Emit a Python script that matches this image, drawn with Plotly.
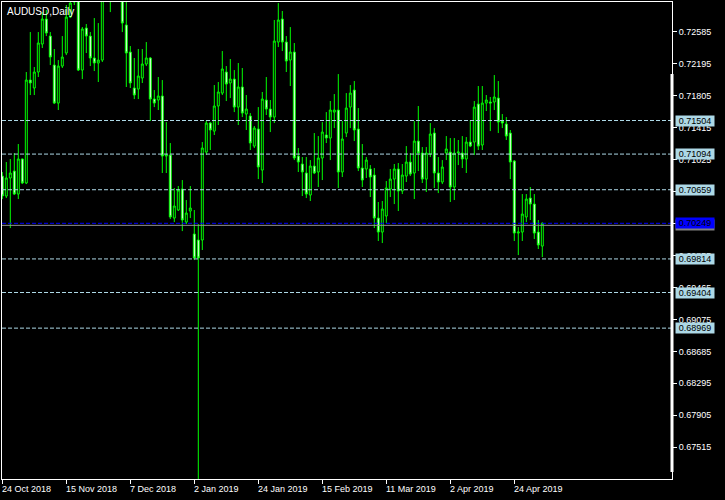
import pandas as pd
import plotly.graph_objects as go

# ---- data -------------------------------------------------------------
holidays = ["2018-12-25", "2019-01-01"]
dates = [d.strftime("%Y-%m-%d") for d in pd.bdate_range("2018-10-24", "2019-05-03")
         if d.strftime("%Y-%m-%d") not in holidays]

open_ = [0.70826,0.70582,0.70802,0.70887,0.70606,0.71034,0.70741,0.71998,0.71901,0.72096,
         0.72438,0.72743,0.72535,0.72181,0.71717,0.72169,0.72328,0.72767,0.72950,0.73030,
         0.72120,0.72633,0.72535,0.72267,0.72206,0.72242,0.73050,0.73180,0.73100,0.73600,
         0.73200,0.72670,0.72340,0.71901,0.71888,0.72023,0.72194,0.72267,0.71766,0.71754,
         0.71803,0.71070,0.71083,0.70313,0.70411,0.70667,0.70264,0.70399,0.70118,0.70045,
         0.70045,0.71119,0.71473,0.71375,0.71681,0.71839,0.72096,0.71962,0.72010,0.71668,
         0.71913,0.71583,0.71559,0.71192,0.71400,0.70899,0.71754,0.71644,0.71546,0.72462,
         0.72743,0.72462,0.72242,0.72340,0.71070,0.70973,0.70863,0.70594,0.70948,0.70875,
         0.71046,0.71327,0.71290,0.71607,0.71632,0.70875,0.71351,0.71668,0.71876,0.71400,
         0.70924,0.70912,0.70912,0.70838,0.70313,0.70142,0.70338,0.70667,0.70789,0.70912,
         0.70643,0.70826,0.70997,0.70863,0.71253,0.71107,0.70789,0.71095,0.71351,0.70863,
         0.70753,0.71107,0.71119,0.70692,0.71107,0.71107,0.71034,0.71241,0.71241,0.71705,
         0.71205,0.71717,0.71730,0.71730,0.71778,0.71498,0.71461,0.71351,0.71009,0.70130,
         0.70142,0.70326,0.70557,0.70484,0.70142,0.69971]
high = [0.70875,0.70997,0.71034,0.71107,0.71217,0.71040,0.72096,0.72584,0.72157,0.72584,
        0.72828,0.72853,0.72584,0.72377,0.72242,0.72535,0.72914,0.73100,0.73150,0.73100,
        0.72645,0.72682,0.72584,0.72755,0.72694,0.73150,0.73300,0.73300,0.73930,0.73700,
        0.73250,0.72975,0.72413,0.72267,0.72377,0.72377,0.72462,0.72279,0.71876,0.72035,
        0.71998,0.71485,0.71229,0.70680,0.70704,0.70777,0.70533,0.70704,0.70411,0.70240,
        0.71241,0.71498,0.71485,0.71937,0.71974,0.72352,0.72169,0.72255,0.72120,0.72206,
        0.72145,0.71815,0.71595,0.71437,0.71668,0.71852,0.72035,0.71754,0.72731,0.72938,
        0.72841,0.72535,0.72645,0.72450,0.71168,0.71058,0.71058,0.71021,0.71351,0.71314,
        0.71485,0.71607,0.71742,0.71827,0.72071,0.71498,0.71839,0.71937,0.71986,0.71656,
        0.71217,0.71058,0.70960,0.70924,0.70509,0.70521,0.70765,0.70912,0.70973,0.70985,
        0.70973,0.71192,0.71107,0.71498,0.71681,0.71180,0.71180,0.71473,0.71412,0.71058,
        0.71021,0.71314,0.71290,0.71290,0.71266,0.71314,0.71302,0.71510,0.71742,0.71925,
        0.71925,0.71815,0.71791,0.72059,0.71986,0.71583,0.71546,0.71388,0.71021,0.70203,
        0.70606,0.70606,0.70692,0.70606,0.70289,0.70262]
low = [0.70545,0.70557,0.70191,0.70594,0.70545,0.70728,0.70728,0.71815,0.71815,0.72035,
       0.72389,0.72535,0.72181,0.71705,0.71632,0.72145,0.72303,0.72755,0.72914,0.72108,
       0.72010,0.72328,0.72169,0.72108,0.71974,0.72218,0.72990,0.72828,0.73050,0.73100,
       0.72584,0.71913,0.71901,0.71766,0.71766,0.71962,0.72169,0.71498,0.71668,0.71632,
       0.70863,0.70863,0.70301,0.70264,0.70399,0.70154,0.70240,0.70313,0.69800,0.67120,
       0.69923,0.71083,0.71144,0.71327,0.71449,0.71815,0.71742,0.71778,0.71607,0.71449,
       0.71546,0.71388,0.71144,0.71168,0.70789,0.70741,0.71571,0.71363,0.71473,0.72401,
       0.72352,0.72096,0.71925,0.71021,0.70875,0.70582,0.70557,0.70521,0.70850,0.70692,
       0.70777,0.71229,0.71021,0.71412,0.70680,0.70814,0.71302,0.71412,0.71253,0.70887,
       0.70692,0.70802,0.70570,0.70191,0.70033,0.70008,0.70252,0.70570,0.70484,0.70399,
       0.70606,0.70753,0.70826,0.70545,0.70887,0.70741,0.70631,0.71058,0.70680,0.70618,
       0.70728,0.71021,0.70509,0.70533,0.70960,0.70924,0.70863,0.71180,0.71083,0.71144,
       0.71144,0.71620,0.71375,0.71632,0.71351,0.71412,0.71266,0.70789,0.70033,0.69861,
       0.70033,0.70264,0.70289,0.70057,0.69935,0.69837]
close = [0.70582,0.70802,0.70863,0.70606,0.71034,0.70741,0.71998,0.71962,0.72096,0.72450,
         0.72743,0.72572,0.72279,0.71717,0.72169,0.72279,0.72767,0.72938,0.73050,0.72120,
         0.72621,0.72535,0.72267,0.72206,0.72242,0.73050,0.73180,0.73100,0.73600,0.73200,
         0.72694,0.72328,0.71962,0.71815,0.72047,0.72194,0.72267,0.71766,0.71717,0.71803,
         0.71070,0.71083,0.70326,0.70460,0.70655,0.70289,0.70374,0.70435,0.69825,0.69825,
         0.71168,0.71473,0.71388,0.71681,0.71852,0.72133,0.71949,0.72010,0.71668,0.71913,
         0.71595,0.71644,0.71229,0.71412,0.70936,0.71766,0.71644,0.71546,0.72474,0.72731,
         0.72462,0.72230,0.72340,0.71046,0.70997,0.70875,0.70606,0.70948,0.70863,0.71046,
         0.71363,0.71290,0.71632,0.71632,0.70875,0.71278,0.71656,0.71839,0.71388,0.70924,
         0.70777,0.71021,0.70814,0.70313,0.70142,0.70423,0.70680,0.70789,0.70912,0.70643,
         0.70838,0.70997,0.70850,0.71253,0.71107,0.70789,0.71107,0.71339,0.70863,0.70753,
         0.70936,0.71156,0.70692,0.71107,0.71119,0.71034,0.71241,0.71192,0.71668,0.71192,
         0.71717,0.71754,0.71717,0.71791,0.71485,0.71473,0.71314,0.70997,0.70130,0.70142,
         0.70362,0.70545,0.70484,0.70130,0.69984,0.70249]

label_dates = ["2018-10-24", "2018-11-15", "2018-12-07", "2019-01-02", "2019-01-24",
               "2019-02-15", "2019-03-11", "2019-04-02", "2019-04-24"]
label_text = ["24 Oct 2018", "15 Nov 2018", "7 Dec 2018", "2 Jan 2019", "24 Jan 2019",
              "15 Feb 2019", "11 Mar 2019", "2 Apr 2019", "24 Apr 2019"]
price_ticks = [0.72585, 0.72195, 0.71805, 0.71415, 0.71025, 0.70635, 0.70245,
               0.69855, 0.69465, 0.69075, 0.68685, 0.68295, 0.67905, 0.67515]
level_lines = [0.71504, 0.71094, 0.70659, 0.69814, 0.69404, 0.68969]
bid_price = 0.70249
gray_line = 0.70224
title = "AUDUSD,Daily"

# ---- figure -----------------------------------------------------------
GREEN = "#00FF00"
LBLUE = "#ADD8E6"
FONT = "Liberation Sans"

fig = go.Figure(go.Candlestick(
    x=dates, open=open_, high=high, low=low, close=close,
    increasing=dict(line=dict(color=GREEN, width=1), fillcolor="#000000"),
    decreasing=dict(line=dict(color=GREEN, width=1), fillcolor="#FFFFFF"),
    whiskerwidth=0, hoverinfo="skip",
))

shapes = []
for lv in level_lines:
    shapes.append(dict(type="line", xref="paper", x0=0, x1=1, yref="y", y0=lv, y1=lv,
                       line=dict(color=LBLUE, width=1, dash="4px,2px")))
shapes.append(dict(type="line", xref="paper", x0=0, x1=1, yref="y", y0=gray_line, y1=gray_line,
                   line=dict(color="#909090", width=1)))
shapes.append(dict(type="line", xref="paper", x0=0, x1=1, yref="y", y0=bid_price, y1=bid_price,
                   line=dict(color="#0000FF", width=1, dash="4px,2px")))
shapes.append(dict(type="rect", xref="paper", xsizemode="pixel", xanchor=1, x0=-1.5, x1=1.5,
                   yref="paper", y0=0.0147, y1=0.849, fillcolor="white",
                   line=dict(width=0)))

annotations = []
for d, t in zip(label_dates, label_text):
    annotations.append(dict(x=d, xref="x", y=0, yref="paper", xanchor="left", yanchor="top",
                            xshift=-2, yshift=-3, text=t, showarrow=False,
                            font=dict(color="white", size=9, family=FONT)))
for lv in level_lines:
    annotations.append(dict(x=1, xref="paper", y=lv, yref="y", xanchor="left", yanchor="middle",
                            xshift=3, text=f"{lv:.5f}", showarrow=False, bgcolor=LBLUE,
                            borderpad=0, width=38, height=10,
                            font=dict(color="black", size=9, family=FONT)))
annotations.append(dict(x=1, xref="paper", y=gray_line, yref="y", xanchor="left", yanchor="middle",
                        xshift=3, text=f"{gray_line:.5f}", showarrow=False, bgcolor="#808080",
                        borderpad=0, width=38, height=10,
                        font=dict(color="#808080", size=9, family=FONT)))
annotations.append(dict(x=1, xref="paper", y=bid_price, yref="y", xanchor="left", yanchor="middle",
                        xshift=3, text=f"{bid_price:.5f}", showarrow=False, bgcolor="#0000FF",
                        borderpad=0, width=38, height=10,
                        font=dict(color="black", size=9, family=FONT)))
annotations.append(dict(x=0, xref="paper", y=1, yref="paper", xanchor="left", yanchor="top",
                        xshift=3, yshift=-2, text=title, showarrow=False,
                        font=dict(color="white", size=10, family=FONT)))

fig.update_layout(
    width=725, height=500,
    margin=dict(l=2, r=53, t=2, b=21, pad=0, autoexpand=False),
    paper_bgcolor="black", plot_bgcolor="black",
    showlegend=False,
    font=dict(family=FONT, color="white", size=9),
    shapes=shapes, annotations=annotations,
    xaxis=dict(type="category", range=[-0.075, 167.425], rangeslider=dict(visible=False),
               showgrid=False, zeroline=False, showline=True, linecolor="white", linewidth=1,
               mirror=True, ticks="outside", ticklen=4, tickcolor="white",
               tickmode="array", tickvals=label_dates, showticklabels=False),
    yaxis=dict(side="right", range=[0.67127, 0.72951], showgrid=False, zeroline=False,
               showline=True, linecolor="white", linewidth=1, mirror=True,
               ticks="outside", ticklen=4, tickcolor="white",
               tickmode="array", tickvals=price_ticks,
               ticktext=[f"{v:.5f}" for v in price_ticks],
               tickfont=dict(color="white", size=9, family=FONT)),
)

fig.write_html("out.html", config={"displayModeBar": False},
               post_script="document.body.style.margin='0';document.body.style.background='black';")
